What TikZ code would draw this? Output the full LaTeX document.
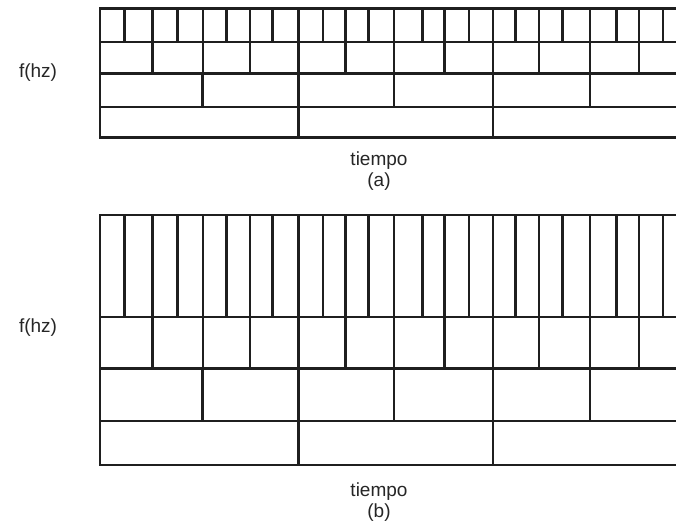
\documentclass[tikz,border=0pt]{standalone}
\usepackage{fontspec}
\setmainfont{Liberation Sans}
\begin{document}
\begin{tikzpicture}[x=1pt,y=-1pt,
  gridline/.style={line width=2.4pt, draw=black!88},
  lbl/.style={font=\fontsize{19}{21}\selectfont, text=black!85, inner sep=0pt}]
\useasboundingbox (0,0) rectangle (676,529);
\fill[white] (0,0) rectangle (676,529);
\foreach \t/\ra/\rb/\rc/\b in {8.5/42/73.5/107/137.5, 215/317/368.5/421/465}{
  \draw[gridline] (676,\t) -- (100,\t) -- (100,\b) -- (676,\b);
  \draw[gridline] (100,\ra) -- (676,\ra);
  \draw[gridline] (100,\rb) -- (676,\rb);
  \draw[gridline] (100,\rc) -- (676,\rc);
  \foreach \x in {124.5,152.5,177.5,203,226.5,250,272.5,298.5,323,345.5,368.5,394,422.5,444.5,469,493,515.5,539,562.5,590,616.5,639,663}
    \draw[gridline] (\x,\t) -- (\x,\ra);
  \foreach \x in {152.5,203,250,298.5,345.5,394,444.5,493,539,590,639}
    \draw[gridline] (\x,\ra) -- (\x,\rb);
  \foreach \x in {202.5,298.5,394,493,590}
    \draw[gridline] (\x,\rb) -- (\x,\rc);
  \foreach \x in {298.5,493}
    \draw[gridline] (\x,\rc) -- (\x,\b);
}
\node[lbl] (fa) at (38,73) {f(hz)};
\node[lbl] (ta) at (379,161) {tiempo};
\node[lbl] (la) at (379,182) {(a)};
\node[lbl] (fb) at (38,328) {f(hz)};
\node[lbl] (tb) at (379,492) {tiempo};
\node[lbl] (lb) at (379,513) {(b)};
\end{tikzpicture}
\end{document}
